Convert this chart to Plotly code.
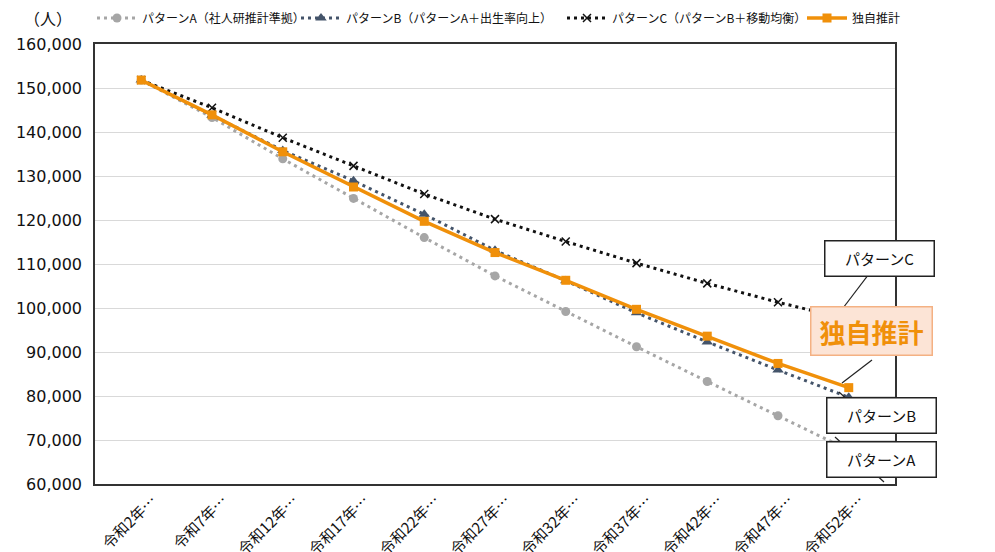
import plotly.graph_objects as go

categories = ["令和2年…", "令和7年…", "令和12年…", "令和17年…", "令和22年…", "令和27年…",
              "令和32年…", "令和37年…", "令和42年…", "令和47年…", "令和52年…"]
pattern_a = [151800, 143300, 133900, 124900, 116000, 107300, 99200, 91200, 83300, 75500, 67700]
pattern_b = [151800, 143800, 135800, 128900, 121300, 113100, 106200, 98900, 92300, 85900, 79700]
pattern_c = [151800, 145500, 138700, 132300, 125900, 120200, 115100, 110200, 105600, 101300, 97400]
dokuji = [151800, 143900, 135500, 127500, 119700, 112600, 106300, 99700, 93600, 87400, 81900]

names = ["パターンA（社人研推計準拠）", "パターンB（パターンA＋出生率向上）",
         "パターンC（パターンB＋移動均衡）", "独自推計"]

FONT = "Noto Sans CJK JP"
ORANGE = "#F0900A"

fig = go.Figure()
fig.add_trace(go.Scatter(x=categories, y=pattern_a, name=names[0], mode="lines+markers",
                         legendwidth=149,
                         line=dict(color="#A6A6A6", width=3, dash="3px,4px"),
                         marker=dict(symbol="circle", size=9, color="#A6A6A6")))
fig.add_trace(go.Scatter(x=categories, y=pattern_b, name=names[1], mode="lines+markers",
                         legendwidth=211,
                         line=dict(color="#44546A", width=3, dash="3px,4px"),
                         marker=dict(symbol="triangle-up", size=10, color="#44546A")))
fig.add_trace(go.Scatter(x=categories, y=pattern_c, name=names[2], mode="lines+markers",
                         legendwidth=185,
                         line=dict(color="#111111", width=3, dash="3px,4px"),
                         marker=dict(symbol="x-thin-open", size=8, color="#111111",
                                     line=dict(width=1.5, color="#111111"))))
fig.add_trace(go.Scatter(x=categories, y=dokuji, name=names[3], mode="lines+markers",
                         line=dict(color=ORANGE, width=3.5),
                         marker=dict(symbol="square", size=9, color=ORANGE)))

box_style = dict(xref="paper", yref="paper", showarrow=False, bgcolor="white",
                 bordercolor="#222222", borderwidth=1.5, borderpad=2,
                 width=104, height=30, font=dict(family=FONT, size=15, color="#111111"))

annotations = [
    dict(text="（人）", x=-0.0588, y=1.059, xref="paper", yref="paper",
         showarrow=False, xanchor="center", yanchor="middle",
         font=dict(family=FONT, size=16, color="#111111")),
    dict(text="パターンC", x=1.0506, y=0.5136, **box_style),
    dict(text="パターンB", x=1.0531, y=0.1136, **box_style),
    dict(text="パターンA", x=1.0531, y=0.0136, **box_style),
    dict(text="<b>独自推計</b>", x=1.0469, y=0.2909, xref="paper", yref="paper", showarrow=False,
         bgcolor="#FCE4D6", bordercolor="#F4B183", borderwidth=1.5, borderpad=2,
         width=116, height=43, font=dict(family=FONT, size=26, color=ORANGE)),
]

line_style = dict(type="line", xref="paper", yref="paper", line=dict(color="#222222", width=1.2))
shapes = [
    dict(x0=0.9825, y0=0.5136, x1=0.93125, y1=0.3909, **line_style),
    dict(x0=0.97125, y0=0.2818, x1=0.93375, y1=0.2295, **line_style),
    dict(x0=0.985, y0=0.1182, x1=0.93, y1=0.2091, **line_style),
    dict(x0=0.98625, y0=0.0045, x1=0.925, y1=0.1068, **line_style),
]

fig.update_layout(
    width=995, height=552,
    margin=dict(l=95, r=100, t=44, b=68, autoexpand=False),
    plot_bgcolor="white", paper_bgcolor="white",
    font=dict(family=FONT, size=13, color="#111111"),
    legend=dict(orientation="h", xref="paper", yref="paper",
                x=-0.00375, y=1.059, xanchor="left", yanchor="middle",
                font=dict(family=FONT, size=12, color="#111111"), itemwidth=40,
                bgcolor="rgba(0,0,0,0)", tracegroupgap=0),
    annotations=annotations,
    shapes=shapes,
    showlegend=True,
)
fig.update_xaxes(type="category", showgrid=False, showline=True, linecolor="#333333",
                 linewidth=1.5, mirror=True, tickangle=-45, ticks="", automargin=False,
                 ticklabelshift=11,
                 tickfont=dict(family=FONT, size=15, color="#111111"))
fig.update_yaxes(range=[60000, 160000], dtick=10000, tickformat=",", showgrid=True,
                 gridcolor="#D9D9D9", gridwidth=1, showline=True, linecolor="#333333",
                 linewidth=1.5, mirror=True, ticks="", zeroline=False, automargin=False,
                 ticklabelstandoff=8,
                 tickfont=dict(family="DejaVu Sans", size=16, color="#111111"))

fig.write_html("out.html", config={"displayModeBar": False},
               post_script="document.body.style.margin='0';document.body.style.overflow='hidden';")
